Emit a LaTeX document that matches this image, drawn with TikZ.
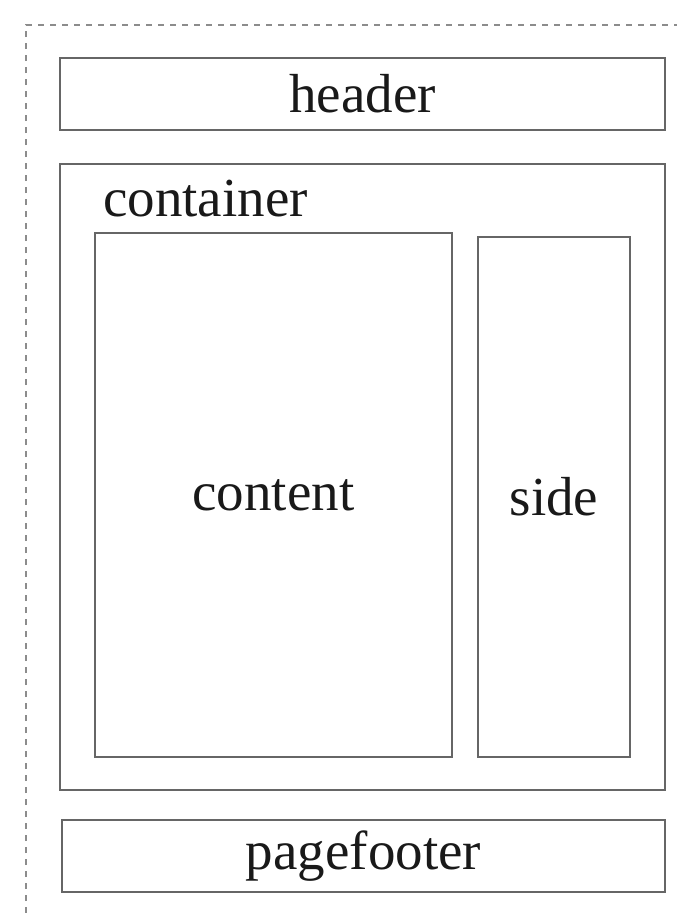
\documentclass[tikz,border=0pt]{standalone}
\usepackage{fontspec}
\setmainfont{Liberation Serif}
\usepackage{tikz}
\usetikzlibrary{positioning}

\begin{document}
\begin{tikzpicture}[
    x=1pt, y=-1pt,
    box/.style={draw=black!60, line width=1.8pt, inner sep=0pt},
    label/.style={font=\fontsize{55}{60}\selectfont, text=black!90}
]
\useasboundingbox (0,0) rectangle (677,913);

% Page outline
\draw[black!45, line width=1.8pt, dash pattern=on 6pt off 6pt] (26,913) -- (26,25) -- (677,25);

% Header
\node[box, label, minimum width=605pt, minimum height=72pt] (header) at (362.5,94) {header};

% Container
\node[box, minimum width=605pt, minimum height=626pt] (container) at (362.5,477) {};
\node[label, anchor=west, inner sep=0pt] (containerlabel) at (103,199) {container};

% Content and side
\node[box, label, minimum width=357pt, minimum height=524pt] (content) at (273.5,495) {content};
\node[box, label, minimum width=152pt, minimum height=520pt] (side) at (554,497) {side};

% Footer
\node[box, label, minimum width=603pt, minimum height=72pt] (pagefooter) at (363.5,856) {pagefooter};

\end{tikzpicture}
\end{document}
